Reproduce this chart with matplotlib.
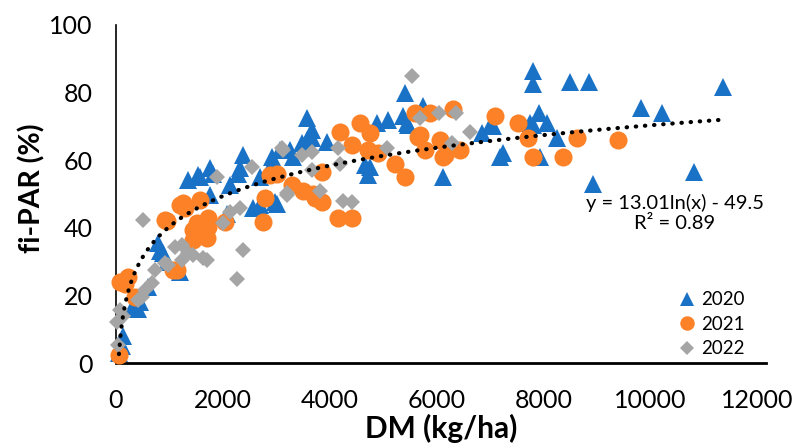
import numpy as np
import matplotlib
matplotlib.use("Agg")
import matplotlib.pyplot as plt

plt.rcParams['font.family'] = ['Lato', 'DejaVu Sans']

# 2020 (blue triangles)
dm_2020 = [50, 110, 130, 320, 410, 450, 600, 790, 820, 880, 955, 1200, 1350, 1540, 1570,
           1760, 1820, 1760, 2130, 2080, 2290, 2320, 2380, 2570, 2700, 2700, 2920, 2940,
           2980, 3010, 3070, 3260, 3310, 3480, 3580, 3580, 3670, 3670, 3950, 4660, 4720,
           4760, 4880, 5090, 5380, 5410, 5450, 5470, 5750, 6120, 6850, 7000, 7060, 7190,
           7250, 7750, 7810, 7810, 7810, 7920, 7940, 8070, 8260, 8500, 8860, 8930, 9830,
           10220, 10820, 11370]
fipar_2020 = [3, 5, 8, 17, 16, 18, 22.5, 35.5, 33, 32.5, 30, 27, 54, 55.5, 55,
              57.7, 56, 49.7, 52.7, 44, 56, 57.7, 61.5, 46, 55, 46.7, 61, 59.5,
              47.6, 47, 63, 63, 61, 65, 72.5, 66, 66.5, 69, 65.5, 58.5, 55.6,
              58, 71, 72, 73, 80, 71, 70.5, 76, 55, 68, 70, 70, 61,
              62, 71, 86.5, 82.5, 70.5, 74, 61, 71, 66.5, 83, 83, 53, 75.5,
              74, 56.5, 81.7]

# 2021 (orange circles)
dm_2021 = [50, 75, 170, 225, 355, 920, 955, 1070, 1140, 1200, 1250, 1290, 1440, 1440, 1520,
           1540, 1570, 1700, 1720, 1720, 2040, 2750, 2790, 2880, 3010, 3300, 3500, 3690,
           3730, 3860, 3860, 4160, 4190, 4420, 4420, 4570, 4720, 4760, 4910, 5220, 5410,
           5600, 5650, 5690, 5790, 5880, 6070, 6120, 6160, 6310, 6440, 7100, 7530, 7720,
           7810, 8370, 8630, 9400]
fipar_2021 = [2.5, 24, 23.5, 25.5, 19.5, 42.3, 42, 27.5, 27.5, 46.7, 47.3, 46, 39.3, 36.4, 41.4,
              38.5, 48.2, 37, 43, 40.2, 41.7, 41.7, 48.8, 55.6, 56, 52.7, 51, 50,
              48.8, 47.6, 56.5, 43, 68.3, 43, 64.5, 71, 63, 68, 62, 59, 55,
              74, 67, 67.5, 63, 74, 66, 61, 61.5, 75, 63, 73, 71, 66.6,
              61, 61, 66.5, 66]

# 2022 (grey diamonds)
dm_2022 = [20, 40, 75, 130, 410, 490, 500, 540, 670, 730, 920, 970, 1100, 1240, 1240,
           1350, 1440, 1630, 1700, 1890, 2000, 2130, 2270, 2320, 2380, 2550, 3110, 3130,
           3200, 3200, 3480, 3670, 3670, 3820, 4160, 4190, 4250, 4420, 5070, 5540, 5690,
           6050, 6290, 6370, 6630]
fipar_2022 = [12, 5.3, 15.7, 14, 18.6, 19.5, 42.3, 21.6, 23.7, 27.5, 29.6, 29, 34.3, 30.5, 35,
              32.5, 32, 31, 30.5, 55, 41.4, 44.7, 25, 45.8, 33.4, 58, 63.6, 63,
              49.7, 50.3, 61.5, 62.4, 57, 51, 63.6, 59, 48, 47.6, 63.6, 85, 72.5,
              74, 65, 74, 68.3]

# log trend line from the chart: y = 13.01 ln(x) - 49.5
trend_a, trend_b = 13.01, -49.5

fig = plt.figure(figsize=(8.03, 4.48), dpi=100)
ax = fig.add_axes([116 / 803, 85 / 448, 650 / 803, 338 / 448])

ax.plot(dm_2020, fipar_2020, '^', color='#1A72C7', markersize=12.5, markeredgewidth=0,
        label='2020', clip_on=False, zorder=3)
ax.plot(dm_2021, fipar_2021, 'o', color='#FD8126', markersize=13, markeredgewidth=0,
        label='2021', clip_on=False, zorder=4)
ax.plot(dm_2022, fipar_2022, 'D', color='#A5A5A5', markersize=8.5, markeredgewidth=0,
        label='2022', clip_on=False, zorder=5)

xt = np.linspace(55, max(dm_2020), 400)
ax.plot(xt, trend_a * np.log(xt) + trend_b, color='black', linewidth=3,
        linestyle=(0, (0.1, 2.1)), dash_capstyle='round', zorder=6, clip_on=False)

ax.set_xlim(0, 12170)
ax.set_ylim(0, 100)
ax.set_xticks(range(0, 12001, 2000))
ax.set_yticks(range(0, 101, 20))
ax.tick_params(length=0, labelsize=18)
ax.tick_params(axis='y', pad=17)
ax.tick_params(axis='x', pad=18.5)

for s in ['top', 'right']:
    ax.spines[s].set_visible(False)
ax.spines['left'].set_linewidth(1.2)
ax.spines['bottom'].set_linewidth(2)

ax.set_xlabel('DM (kg/ha)', fontsize=21.5, fontweight='bold')
ax.xaxis.set_label_coords(0.5, -0.15)
ax.set_ylabel('fi-PAR (%)', fontsize=20.5, fontweight='bold')
ax.yaxis.set_label_coords(-0.109, 0.518)

ax.text(0.86, 0.444, 'y = 13.01ln(x) - 49.5\nR² = 0.89', transform=ax.transAxes,
        ha='center', va='center', fontsize=14.5, linespacing=1.25)

ax.legend(loc='upper left', bbox_to_anchor=(0.85, 0.235), frameon=False, fontsize=13.5,
          handletextpad=0.15, labelspacing=0.4, borderaxespad=0, handlelength=1.2,
          markerscale=0.8)

fig.savefig('out.png', dpi=100)
